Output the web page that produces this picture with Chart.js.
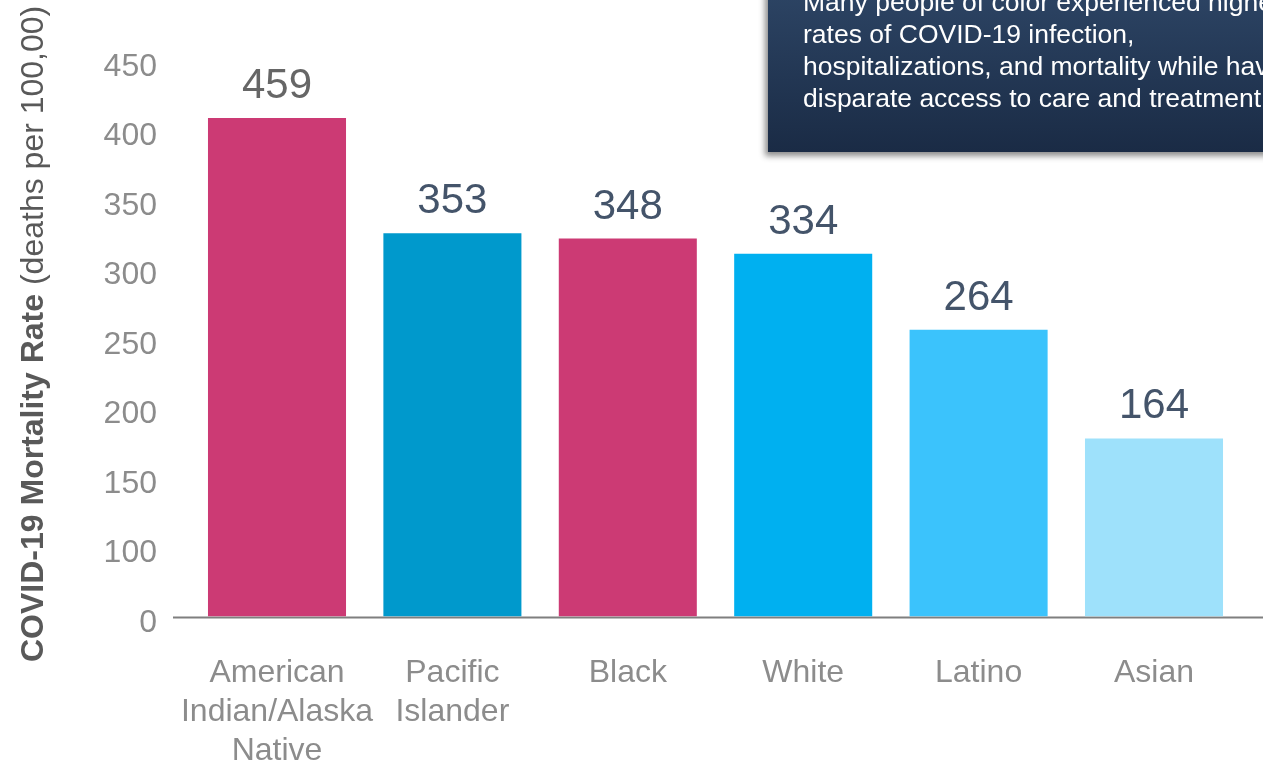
<!DOCTYPE html>
<html lang="en">
<head>
  <meta charset="UTF-8">
  <meta name="viewport" content="width=device-width, initial-scale=1.0">
  <title>COVID-19 Mortality Rate</title>
  <script src="https://cdn.jsdelivr.net/npm/chart.js"></script>
  <style>
    body { margin: 0; overflow: hidden; background: #fff; }
    #wrap { position: relative; width: 1263px; height: 763px; overflow: hidden; }
    .callout {
      position: absolute; left: 768px; top: -40px; width: 620px; height: 192px;
      box-sizing: border-box; padding: 26px 0 0 35px;
      background: linear-gradient(#30496a, #1a2b45);
      box-shadow: -3px 4px 6px rgba(0, 0, 0, 0.45);
      color: #fff; font: 26.5px "Liberation Sans", Arial, sans-serif;
      line-height: 32px; white-space: nowrap;
    }
  </style>
</head>
<body>
<div id="wrap">
  <canvas id="chart" width="1263" height="763"></canvas>
  <div class="callout">
    Many people of color experienced higher<br>
    rates of COVID-19 infection,<br>
    hospitalizations, and mortality while having<br>
    disparate access to care and treatment.
  </div>
</div>

<script>
  // Dados
  const categories = [
    ["American", "Indian/Alaska", "Native"],
    ["Pacific", "Islander"],
    "Black",
    "White",
    "Latino",
    "Asian"
  ];
  const mortality = [459, 353, 348, 334, 264, 164];
  const tickLabels = ["0", "100", "150", "200", "250", "300", "350", "400", "450"];

  // Estilo
  const font = "'Liberation Sans', Arial, sans-serif";
  const barColors = ["#cc3a74", "#0099cc", "#cc3a74", "#00b0f0", "#3bc3fc", "#9ee1fb"];
  const labelColors = ["#666666", "#44546a", "#44546a", "#44546a", "#44546a", "#44546a"];
  const yStep = 64;

  // linha do eixo x, por baixo das barras
  const baseline = {
    id: "baseline",
    beforeDatasetsDraw(chart) {
      const ctx = chart.ctx;
      const y = chart.scales.y.getPixelForValue(0) + 1;
      ctx.save();
      ctx.strokeStyle = "#7f7f7f";
      ctx.lineWidth = 2;
      ctx.beginPath();
      ctx.moveTo(173, y);
      ctx.lineTo(chart.width, y);
      ctx.stroke();
      ctx.restore();
    }
  };

  // valores em cima das barras
  const valueLabels = {
    id: "valueLabels",
    afterDatasetsDraw(chart) {
      const ctx = chart.ctx;
      const meta = chart.getDatasetMeta(0);
      ctx.save();
      ctx.font = "42px " + font;
      ctx.textAlign = "center";
      ctx.textBaseline = "alphabetic";
      meta.data.forEach((bar, i) => {
        ctx.fillStyle = labelColors[i];
        ctx.fillText(String(mortality[i]), bar.x, bar.y - 20);
      });
      ctx.restore();
    }
  };

  // título do eixo y, parte em negrito
  const yTitle = {
    id: "yTitle",
    afterDraw(chart) {
      const ctx = chart.ctx;
      ctx.save();
      ctx.translate(43, 662);
      ctx.rotate(-Math.PI / 2);
      ctx.fillStyle = "#595959";
      ctx.textAlign = "left";
      ctx.textBaseline = "alphabetic";
      ctx.font = "bold 32px " + font;
      const bold = "COVID-19 Mortality Rate ";
      ctx.fillText(bold, 0, 0);
      const w = ctx.measureText(bold).width;
      ctx.font = "32px " + font;
      ctx.fillText("(deaths per 100,00)", w, 0);
      ctx.restore();
    }
  };

  new Chart(document.getElementById("chart"), {
    type: "bar",
    data: {
      labels: categories,
      datasets: [{
        data: mortality,
        backgroundColor: barColors,
        categoryPercentage: 1,
        barPercentage: 0.787
      }]
    },
    options: {
      responsive: false,
      animation: false,
      layout: { padding: { top: 60.5, right: 21.3, left: 0, bottom: 0 } },
      plugins: {
        legend: { display: false },
        tooltip: { enabled: false }
      },
      scales: {
        x: {
          grid: { display: false, drawTicks: false },
          border: { display: false },
          ticks: {
            color: "#8c8c8c",
            padding: 37.5,
            maxRotation: 0,
            autoSkip: false,
            font: { family: font, size: 32, lineHeight: 1.21 }
          },
          afterFit(scale) { scale.height = 146.5; }
        },
        y: {
          min: 0,
          max: yStep * (tickLabels.length - 1),
          grid: { display: false, drawTicks: false },
          border: { display: false },
          afterBuildTicks(scale) {
            scale.ticks = tickLabels.map((t, i) => ({ value: i * yStep }));
          },
          ticks: {
            color: "#8c8c8c",
            padding: 32.3,
            labelOffset: 6.5,
            font: { family: font, size: 32 },
            callback: (value, index) => tickLabels[index]
          },
          afterFit(scale) { scale.width = 189.3; }
        }
      }
    },
    plugins: [baseline, valueLabels, yTitle]
  });
</script>
</body>
</html>
